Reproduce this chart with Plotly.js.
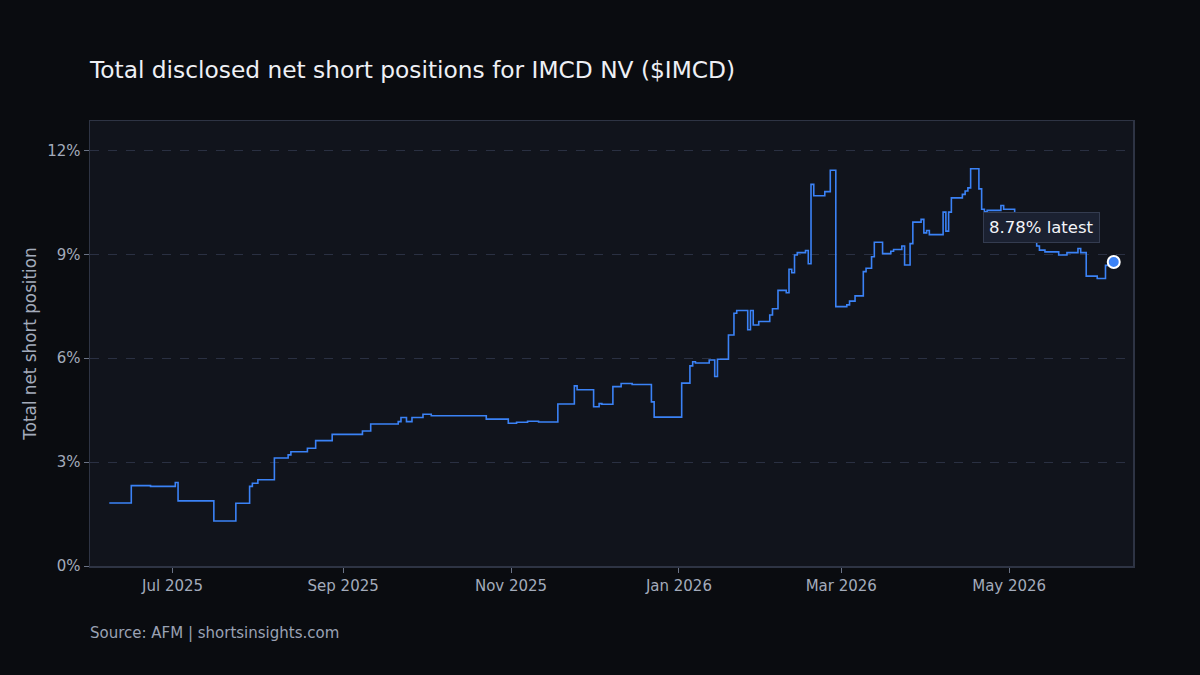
<!DOCTYPE html>
<html>
<head>
<meta charset="utf-8">
<script src="https://cdn.plot.ly/plotly-3.0.1.min.js"></script>
<style>
  html, body { margin: 0; padding: 0; background: #0a0c10; }
  #chart { width: 1200px; height: 675px; }
</style>
</head>
<body>
<div id="chart"></div>
<script>
// Disclosure dates (step changes) and total net short position (%)
const dates = [
  '2025-06-08','2025-06-16','2025-06-23','2025-07-02','2025-07-03','2025-07-16','2025-07-24','2025-07-29','2025-07-30','2025-08-01',
  '2025-08-07','2025-08-12','2025-08-13','2025-08-19','2025-08-22','2025-08-28','2025-09-08','2025-09-11','2025-09-21','2025-09-22',
  '2025-09-24','2025-09-26','2025-09-30','2025-10-03','2025-10-23','2025-10-31','2025-11-03','2025-11-07','2025-11-11','2025-11-18',
  '2025-11-24','2025-11-25','2025-12-01','2025-12-03','2025-12-04','2025-12-08','2025-12-11','2025-12-15','2025-12-22','2025-12-23',
  '2026-01-02','2026-01-05','2026-01-06','2026-01-07','2026-01-12','2026-01-14','2026-01-15','2026-01-19','2026-01-21','2026-01-22',
  '2026-01-26','2026-01-27','2026-01-28','2026-01-30','2026-02-03','2026-02-04','2026-02-06','2026-02-09','2026-02-10','2026-02-11',
  '2026-02-12','2026-02-13','2026-02-16','2026-02-17','2026-02-18','2026-02-19','2026-02-23','2026-02-25','2026-02-27','2026-03-03',
  '2026-03-04','2026-03-06','2026-03-09','2026-03-10','2026-03-12','2026-03-13','2026-03-16','2026-03-19','2026-03-20','2026-03-23',
  '2026-03-24','2026-03-26','2026-03-27','2026-03-30','2026-03-31','2026-04-01','2026-04-02','2026-04-07','2026-04-08','2026-04-09',
  '2026-04-10','2026-04-14','2026-04-15','2026-04-16','2026-04-17','2026-04-20','2026-04-21','2026-04-22','2026-04-23','2026-04-28',
  '2026-04-29','2026-05-03','2026-05-07','2026-05-11','2026-05-12','2026-05-14','2026-05-19','2026-05-22','2026-05-26','2026-05-27',
  '2026-05-29','2026-06-02','2026-06-05','2026-06-08'
];
const shortPct = [
  1.82, 2.32, 2.30, 2.41, 1.88, 1.30, 1.81, 2.30, 2.39, 2.49,
  3.12, 3.21, 3.30, 3.40, 3.62, 3.80, 3.90, 4.10, 4.17, 4.29,
  4.17, 4.29, 4.38, 4.34, 4.24, 4.12, 4.15, 4.18, 4.16, 4.68,
  5.20, 5.09, 4.60, 4.69, 4.67, 5.18, 5.27, 5.24, 4.74, 4.30,
  5.28, 5.78, 5.90, 5.86, 5.95, 5.47, 5.97, 6.67, 7.30, 7.38,
  6.82, 7.38, 6.96, 7.06, 7.25, 7.43, 7.96, 7.89, 8.57, 8.47,
  8.98, 9.05, 9.11, 8.73, 11.02, 10.69, 10.81, 11.43, 7.49, 7.54,
  7.65, 7.80, 8.50, 8.60, 8.93, 9.35, 9.02, 9.09, 9.14, 9.24,
  8.69, 9.31, 9.93, 10.01, 9.62, 9.69, 9.57, 10.22, 9.67, 10.22,
  10.63, 10.73, 10.83, 10.92, 11.47, 10.89, 10.30, 10.23, 10.27, 10.41,
  10.30, 9.95, 9.60, 9.24, 9.12, 9.07, 8.98, 9.05, 9.17, 9.05,
  8.37, 8.30, 8.68, 8.78
];
const yTicks = [0, 3, 6, 9, 12];
const titleText = 'Total disclosed net short positions for IMCD NV ($IMCD)';
const yTitleText = 'Total net short position';
const sourceText = 'Source: AFM | shortsinsights.com';

const lastDate = dates[dates.length - 1];
const lastVal = shortPct[shortPct.length - 1];

const FONT = 'DejaVu Sans, Verdana, sans-serif';
const lineColor = '#3b82f6';

const traces = [
  {
    x: dates, y: shortPct, type: 'scatter', mode: 'lines',
    line: { shape: 'hv', color: lineColor, width: 1.6 },
    hoverinfo: 'skip', showlegend: false
  },
  {
    x: [lastDate], y: [lastVal], type: 'scatter', mode: 'markers',
    marker: { size: 12, color: lineColor, line: { color: '#ffffff', width: 2 } },
    hoverinfo: 'skip', showlegend: false
  }
];

const layout = {
  width: 1200, height: 675,
  paper_bgcolor: '#0a0c10',
  plot_bgcolor: '#11141c',
  margin: { l: 90, r: 67, t: 121, b: 109 },
  font: { family: FONT, color: '#a3abbb', size: 15 },
  title: {
    text: titleText,
    font: { family: FONT, size: 23.3, color: '#eef0f5' },
    x: 90 / 1200, xanchor: 'left', xref: 'container',
    y: 1 - 70 / 675, yanchor: 'middle', yref: 'container'
  },
  xaxis: {
    type: 'date',
    range: ['2025-06-01', '2026-06-15'],
    tick0: '2025-07-01', dtick: 'M2', tickformat: '%b %Y',
    showgrid: false, zeroline: false,
    ticks: 'outside', ticklen: 5, tickcolor: '#6b7386', tickwidth: 1,
    showline: true, linecolor: '#2e3444', linewidth: 1.5, mirror: true,
    tickfont: { family: FONT, size: 15, color: '#a3abbb' }
  },
  yaxis: {
    range: [0, 12.85],
    tickvals: yTicks, ticktext: yTicks.map(v => v + '%'),
    showgrid: true, gridcolor: '#2a3042', griddash: 'dash', gridwidth: 1,
    zeroline: false,
    ticks: 'outside', ticklen: 5, tickcolor: '#6b7386', tickwidth: 1,
    showline: true, linecolor: '#2e3444', linewidth: 1.5, mirror: true,
    tickfont: { family: FONT, size: 15, color: '#a3abbb' },
    title: { text: yTitleText, font: { family: FONT, size: 16.8, color: '#a3abbb' }, standoff: 6 }
  },
  annotations: [
    {
      x: lastDate, y: lastVal, xref: 'x', yref: 'y',
      text: '8.78% latest', showarrow: false,
      xshift: -72, yshift: 34,
      font: { family: FONT, size: 16.5, color: '#f2f4f8' },
      bgcolor: '#1b2131', bordercolor: '#343c50', borderwidth: 1, borderpad: 5
    },
    {
      x: 0, y: (566 - 633) / 445, xref: 'paper', yref: 'paper',
      xanchor: 'left', yanchor: 'middle', xshift: -2,
      text: sourceText, showarrow: false,
      font: { family: FONT, size: 15, color: '#9aa2b4' }
    }
  ]
};

Plotly.newPlot('chart', traces, layout, { displayModeBar: false, staticPlot: true });
</script>
</body>
</html>
